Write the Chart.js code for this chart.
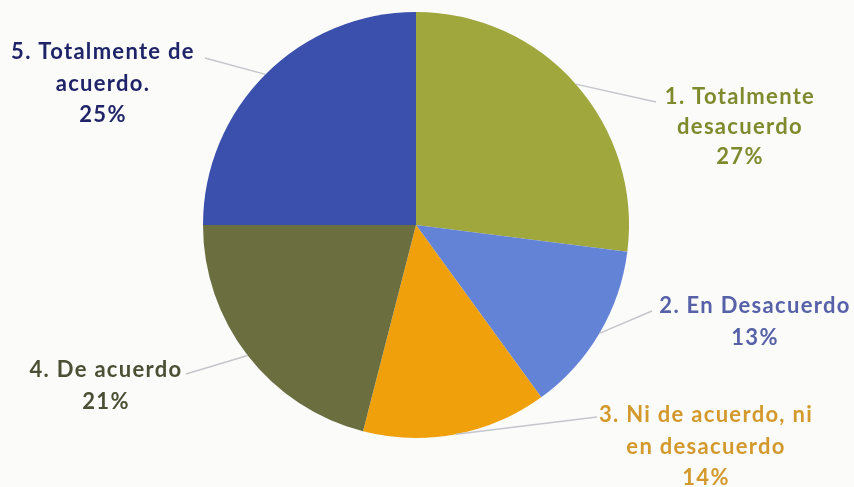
<!DOCTYPE html>
<html lang="es">
<head>
<meta charset="utf-8">
<title>Distribución de respuestas</title>
<script src="https://cdn.jsdelivr.net/npm/chart.js@4/dist/chart.umd.min.js"></script>
<style>
  html, body { margin: 0; padding: 0; background: #fbfbfa; }
  #wrap { position: relative; width: 854px; height: 487px; }
</style>
</head>
<body>
<div id="wrap"><canvas id="pie" width="854" height="487"></canvas></div>
<script>
// Categorías y porcentajes de la encuesta
const categories = [
  ["1. Totalmente", "desacuerdo"],
  ["2. En Desacuerdo"],
  ["3. Ni de acuerdo, ni", "en desacuerdo"],
  ["4. De acuerdo"],
  ["5. Totalmente de", "acuerdo."]
];
const percentages = [27, 13, 14, 21, 25];
const sliceColors = ["#9fa73d", "#6383d6", "#f0a00a", "#6b6f3f", "#3a50ac"];
const labelColors = ["#7e8a2c", "#5661a8", "#d3992c", "#4b4f34", "#1f2468"];

// Posición de cada rótulo (centro de la primera línea) y punto donde termina la guía
const labelLayout = [
  { x: 740, y: 97,  lineTo: { x: 656, y: 102 } },
  { x: 755, y: 306, lineTo: { x: 652, y: 311 } },
  { x: 706, y: 415, lineTo: { x: 597, y: 417 } },
  { x: 106, y: 370, lineTo: { x: 186, y: 374 } },
  { x: 103, y: 52,  lineTo: { x: 205, y: 58 } }
];

const calloutPlugin = {
  id: 'callouts',
  afterDatasetsDraw(chart) {
    const ctx = chart.ctx;
    const meta = chart.getDatasetMeta(0);
    const data = chart.data.datasets[0].data;
    ctx.save();
    meta.data.forEach((arc, i) => {
      const p = arc.getProps(['x', 'y', 'startAngle', 'endAngle', 'outerRadius'], true);
      const mid = (p.startAngle + p.endAngle) / 2;
      const ax = p.x + Math.cos(mid) * p.outerRadius;
      const ay = p.y + Math.sin(mid) * p.outerRadius;
      const lay = labelLayout[i];
      // guía
      ctx.strokeStyle = '#c4c6cb';
      ctx.lineWidth = 1.5;
      ctx.beginPath();
      ctx.moveTo(ax, ay);
      ctx.lineTo(lay.lineTo.x, lay.lineTo.y);
      ctx.stroke();
      // texto
      const lines = chart.data.labels[i].concat([data[i] + '%']);
      ctx.fillStyle = labelColors[i];
      ctx.font = 'bold 22px Lato, "Open Sans", sans-serif';
      ctx.letterSpacing = '1.3px';
      ctx.textAlign = 'center';
      ctx.textBaseline = 'middle';
      const lh = (i === 0) ? 30 : 31.5;
      lines.forEach((t, k) => ctx.fillText(t, lay.x, lay.y + k * lh));
    });
    ctx.restore();
  }
};

new Chart(document.getElementById('pie'), {
  type: 'pie',
  data: {
    labels: categories,
    datasets: [{
      data: percentages,
      backgroundColor: sliceColors,
      borderWidth: 0
    }]
  },
  options: {
    responsive: false,
    animation: false,
    layout: { padding: { top: 12, bottom: 49, left: 0, right: 22 } },
    plugins: {
      legend: { display: false },
      tooltip: { enabled: false }
    }
  },
  plugins: [calloutPlugin]
});
</script>
</body>
</html>
